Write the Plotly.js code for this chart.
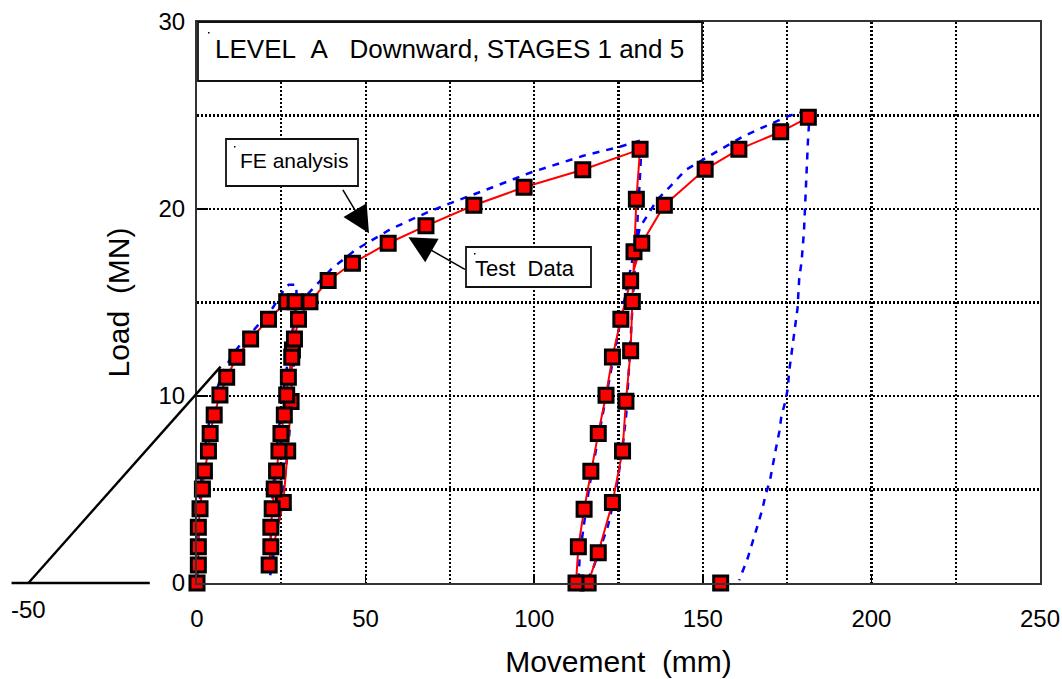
<!DOCTYPE html>
<html>
<head>
<meta charset="utf-8">
<script src="https://cdn.plot.ly/plotly-3.0.1.min.js"></script>
<style>
  html, body { margin: 0; padding: 0; background: #fff; }
  #chart { width: 1062px; height: 679px; }
</style>
</head>
<body>
<div id="chart"></div>
<script>
// Load test, level A downward, stages 1 and 5: pile head movement (mm) against load (MN)
const testMove = [0, 0.4, 0.4, 0.4, 0.9, 1.6, 2.2, 3.4, 3.9, 5.1, 6.8, 8.8, 11.8, 15.9, 21.2, 26.6,
  29.1, 28.3, 27.9, 26.9, 25.6, 21.4,
  21.9, 21.9, 22.3, 22.9, 23.6, 24.3, 24.9, 25.9, 26.6, 27.1, 28.1, 28.9, 30.1, 33.5,
  38.9, 46.1, 56.7, 67.9, 82.1, 97.0, 114.4, 131.4,
  130.3, 129.6, 129.1, 128.6, 127.2, 126.2, 123.2, 119.0, 116.0, 112.4,
  113.1, 114.8, 116.8, 119.0, 121.3, 123.2, 125.7, 128.6, 131.9,
  138.6, 150.7, 160.7, 173.1, 181.3, null, 155.3];
const testLoad = [0, 0.96, 1.94, 2.98, 3.97, 5.03, 5.99, 7.06, 8.0, 8.98, 10.05, 11.0, 12.07, 13.05, 14.1, 15.04,
  15.04, 12.46, 9.7, 7.06, 4.3, 0.96,
  1.94, 2.98, 3.97, 5.03, 5.99, 7.06, 8.0, 8.98, 10.05, 11.0, 12.07, 13.05, 14.1, 15.04,
  16.17, 17.1, 18.17, 19.1, 20.2, 21.16, 22.1, 23.19,
  20.52, 17.72, 15.06, 12.42, 9.72, 7.06, 4.3, 1.62, 0, 0,
  1.94, 3.94, 5.97, 8.0, 10.04, 12.08, 14.1, 16.16, 18.17,
  20.2, 22.12, 23.19, 24.13, 24.9, null, 0];

// FE analysis prediction
const feMove = [0, 0.3, 0.7, 1.3, 2.2, 3.5, 5.2, 7.5, 10.5, 13.5, 17.2, 22.6, 26.1, 27.2, 29.4,
  29.5, 29.3, 28.8, 28.2, 27.4, 26.3, 24.9, 23.5, 22.3, 21.7,
  21.8, 22.2, 23.0, 24.1, 25.5, 27.0, 28.6, 30.5, 34.0,
  39.9, 46.9, 57.2, 63.2, 68.6, 75.0, 84.0, 87.5, 98.8, 107.7, 114.6, 125.4, 131.9,
  131.3, 130.5, 129.8, 129.1, 128.3, 127.3, 125.9, 124.0, 121.8, 119.2, 117.5, 115.5, 113.2,
  113.5, 114.6, 116.2, 118.2, 120.3, 122.3, 124.3, 126.4, 128.9, 131.4, 133.4, 136.5, 140.3,
  145.0, 151.6, 156.1, 161.5, 166.5, 172.4, 175.4, 178.8, 181.8,
  181.2, 180.6, 180.0, 179.3, 178.6, 178.1, 177.5, 176.9, 176.2, 175.6, 175.2, 174.6,
  173.3, 172.7, 171.7, 170.8, 169.9, 168.6, 167.6, 166.2, 164.7, 163.3, 161.5, 160.8];
const feLoad = [0, 2.0, 4.0, 5.5, 7.0, 8.5, 10.0, 11.2, 12.2, 12.9, 13.6, 14.75, 15.78, 15.95, 15.95,
  15.6, 14.0, 12.0, 10.0, 8.0, 6.0, 4.0, 2.4, 1.0, 0.4,
  2.0, 4.0, 6.0, 8.0, 10.0, 12.0, 13.8, 15.0, 15.67,
  16.8, 17.8, 18.9, 19.4, 19.84, 20.3, 20.9, 21.15, 21.94, 22.44, 22.85, 23.33, 23.69,
  21.5, 19.0, 16.5, 14.0, 11.5, 9.0, 6.8, 4.7, 3.0, 1.6, 0.8, 0.1, 0.3,
  1.5, 3.0, 5.0, 7.0, 9.0, 11.0, 13.0, 14.8, 17.1, 19.05, 19.6, 20.5, 21.2,
  22.1, 22.8, 23.28, 23.83, 24.26, 24.76, 24.97, 25.15, 25.39,
  23.7, 21.2, 18.8, 17.2, 16.3, 14.7, 13.85, 13.0, 12.14, 11.3, 10.4, 9.8,
  8.9, 8.1, 7.2, 6.4, 5.47, 4.7, 3.9, 3.05, 2.2, 1.32, 0.48, 0.15];

// Elastic reference line and its baseline
const elasticMove = [-55, -14, null, -50, 7.0];
const elasticLoad = [0, 0, null, 0, 11.57];

const xRange = [0, 250];
const yRange = [0, 30];
const xTicks = [0, 50, 100, 150, 200, 250];
const yTicks = [0, 10, 20, 30];

// page geometry
const W = 1062, H = 679;
const M = { l: 10, r: 22, t: 22, b: 70 };
const paperW = W - M.l - M.r;
const paperH = H - M.t - M.b;
const plotLeft = 197, plotBottom = 583;
const xDom0 = (plotLeft - M.l) / paperW;
const yDom0 = (H - M.b - plotBottom) / paperH;
const x2Range = [xRange[1] - (xRange[1] - xRange[0]) / (1 - xDom0), xRange[1]];
const y2Range = [yRange[1] - (yRange[1] - yRange[0]) / (1 - yDom0), yRange[1]];
const px = v => (v - M.l) / paperW;
const py = v => (H - M.b - v) / paperH;

const FONT = 'Liberation Sans, Arial, sans-serif';
const dotted = '2px,2px';

const traces = [
  {
    x: elasticMove, y: elasticLoad, xaxis: 'x2', yaxis: 'y2',
    mode: 'lines', line: { color: '#000', width: 2.4 },
    hoverinfo: 'skip', showlegend: false
  },
  {
    x: feMove, y: feLoad, mode: 'lines', name: 'FE analysis',
    line: { color: '#0000ff', width: 2.5, dash: '7px,7px' },
    cliponaxis: false, showlegend: false
  },
  {
    x: testMove, y: testLoad, mode: 'lines+markers', name: 'Test Data',
    line: { color: '#ff0000', width: 2 },
    marker: { symbol: 'square', size: 14, color: '#ff0000', line: { color: '#000', width: 3 } },
    connectgaps: false, cliponaxis: false, showlegend: false
  }
];

function box(x0, y0, x1, y1) {
  return {
    type: 'rect', xref: 'paper', yref: 'paper', layer: 'above',
    x0: px(x0), x1: px(x1), y0: py(y1), y1: py(y0),
    fillcolor: '#fff', line: { color: '#111', width: 1.8 }
  };
}

// small pen marks in the upper-left corner of each text box
function penDot(x, y) {
  return {
    type: 'rect', xref: 'paper', yref: 'paper', layer: 'above',
    x0: px(x), x1: px(x + 1.5), y0: py(y + 1.5), y1: py(y),
    fillcolor: '#000', line: { width: 0 }
  };
}

const layout = {
  width: W, height: H,
  margin: M,
  paper_bgcolor: '#fff',
  plot_bgcolor: 'rgba(0,0,0,0)',
  font: { family: FONT, color: '#000' },
  showlegend: false,
  xaxis: {
    domain: [xDom0, 1], range: xRange, anchor: 'y',
    tickvals: xTicks, ticks: 'inside', ticklen: 9, tickwidth: 1.5, tickcolor: '#000',
    tickfont: { size: 24 }, ticklabelstandoff: 13,
    showline: true, linecolor: '#333', linewidth: 2, mirror: true,
    showgrid: true, gridcolor: '#000', gridwidth: 2.2, griddash: dotted,
    minor: { dtick: 25, tick0: 0, showgrid: true, gridcolor: '#000', gridwidth: 2.2, griddash: dotted, ticks: '' },
    zeroline: false, fixedrange: true,
    title: { text: 'Movement\u00a0\u00a0(mm)', font: { size: 30 }, standoff: 20 }
  },
  yaxis: {
    domain: [yDom0, 1], range: yRange, anchor: 'x',
    tickvals: yTicks, ticks: 'inside', ticklen: 11, tickwidth: 1.5, tickcolor: '#000',
    tickfont: { size: 24 }, ticklabelstandoff: 5,
    showline: true, linecolor: '#333', linewidth: 2, mirror: true,
    showgrid: true, gridcolor: '#000', gridwidth: 2.2, griddash: dotted,
    minor: { dtick: 5, tick0: 0, showgrid: true, gridcolor: '#000', gridwidth: 2.2, griddash: dotted, ticks: '' },
    zeroline: false, fixedrange: true,
    title: { text: 'Load\u00a0\u00a0(MN)', font: { size: 30 }, standoff: 20 }
  },
  xaxis2: {
    domain: [0, 1], range: x2Range, anchor: 'y2', visible: false, fixedrange: true
  },
  yaxis2: {
    domain: [0, 1], range: y2Range, anchor: 'x2', visible: false, fixedrange: true
  },
  shapes: [
    box(198, 22, 702, 81),
    box(226, 139, 358, 186),
    box(466, 247, 591, 287),
    penDot(208, 32),
    penDot(234, 146),
    penDot(474, 253)
  ],
  annotations: [
    {
      xref: 'paper', yref: 'paper', x: px(213), y: py(49), xanchor: 'left', yanchor: 'middle',
      text: 'LEVEL\u00a0\u00a0A\u00a0\u00a0\u00a0Downward,\u00a0STAGES\u00a01\u00a0and\u00a05',
      showarrow: false, font: { size: 26 }
    },
    {
      xref: 'paper', yref: 'paper', x: px(238), y: py(161), xanchor: 'left', yanchor: 'middle',
      text: 'FE\u00a0analysis', showarrow: false, font: { size: 21 }
    },
    {
      xref: 'paper', yref: 'paper', x: px(473), y: py(268), xanchor: 'left', yanchor: 'middle',
      text: 'Test\u00a0\u00a0Data', showarrow: false, font: { size: 22 }
    },
    {
      xref: 'x', yref: 'y', x: 51.0, y: 18.7, text: '',
      showarrow: true, ax: -27, ay: -45, arrowhead: 2, arrowsize: 3.6, arrowwidth: 1.5, arrowcolor: '#000', standoff: 0
    },
    {
      xref: 'x', yref: 'y', x: 62.7, y: 18.49, text: '',
      showarrow: true, ax: 58, ay: 33, arrowhead: 2, arrowsize: 3.6, arrowwidth: 1.5, arrowcolor: '#000', standoff: 0
    },
    {
      xref: 'x2', yref: 'paper', x: -50, y: py(609), xanchor: 'center', yanchor: 'middle',
      text: '-50', showarrow: false, font: { size: 24 }
    }
  ]
};

Plotly.newPlot('chart', traces, layout, { staticPlot: true, displayModeBar: false });
</script>
</body>
</html>
